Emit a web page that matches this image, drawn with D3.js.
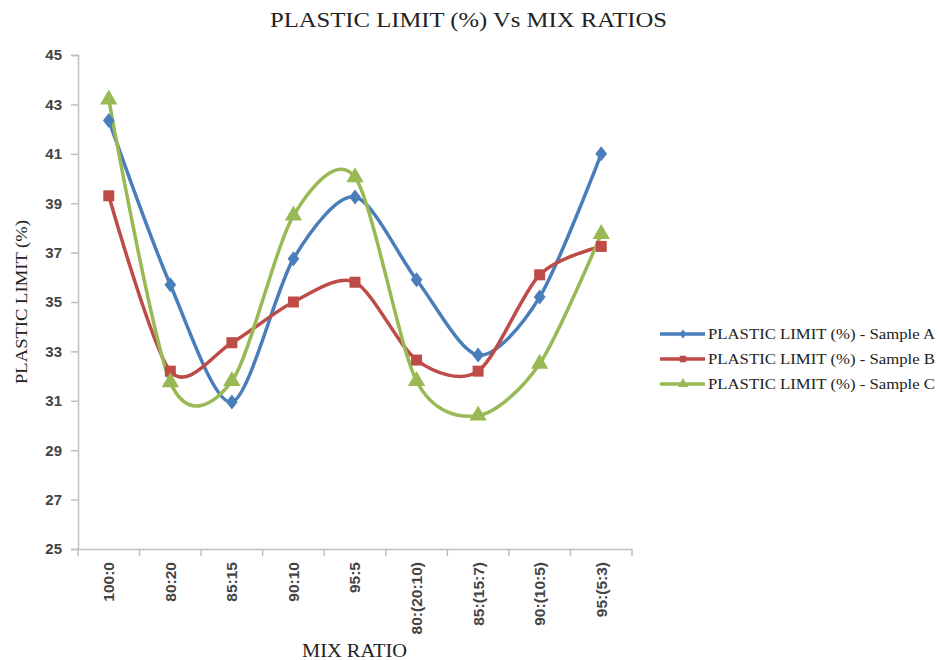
<!DOCTYPE html>
<html><head><meta charset="utf-8">
<script src="https://cdn.jsdelivr.net/npm/d3@7"></script>
<style>body{margin:0;background:#fff;} svg{display:block;}</style>
</head><body>
<svg id="chart" width="938" height="660"></svg>
<script>
const categories = ["100:0","80:20","85:15","90:10","95:5","80:(20:10)","85:(15:7)","90:(10:5)","95:(5:3)"];
const sampleA = [42.35, 35.7, 30.95, 36.75, 39.25, 35.9, 32.85, 35.2, 41.0];
const sampleB = [39.3, 32.2, 33.35, 35.0, 35.8, 32.65, 32.2, 36.1, 37.25];
const sampleC = [43.2, 31.75, 31.8, 38.5, 40.05, 31.8, 30.4, 32.5, 37.75];
const seriesNames = ["PLASTIC LIMIT (%) - Sample A","PLASTIC LIMIT (%) - Sample B","PLASTIC LIMIT (%) - Sample C"];
const yTicks = [25,27,29,31,33,35,37,39,41,43,45];

const colors = ["#4a7ebb","#be4b48","#98b954"];
const series = [sampleA, sampleB, sampleC];

const svg = d3.select("#chart");
const m = {left:78, right:632, top:55, bottom:549};

const x = d3.scaleBand().domain(categories).range([m.left, m.right]).padding(0);
const y = d3.scaleLinear().domain([25,45]).range([m.bottom, m.top]);

const serif = "'Liberation Serif', 'Times New Roman', serif";

// title
svg.append("text").attr("x",270).attr("y",27)
  .attr("font-family",serif).attr("font-size",22).attr("fill","#222")
  .attr("textLength",397).attr("lengthAdjust","spacingAndGlyphs")
  .text("PLASTIC LIMIT (%) Vs MIX RATIOS");

// y axis
const yAxis = svg.append("g").attr("transform",`translate(${m.left},0)`)
  .call(d3.axisLeft(y).tickValues(yTicks).tickSize(7).tickPadding(9));
yAxis.select(".domain").attr("stroke","#bfbfbf").attr("stroke-width",1.5);
yAxis.selectAll(".tick line").attr("stroke","#bfbfbf").attr("stroke-width",1.5);
yAxis.selectAll(".tick text").attr("font-family","'Liberation Sans', Arial, sans-serif")
  .attr("font-size",15).attr("font-weight","bold").attr("fill","#444");

// x axis
const xAxis = svg.append("g").attr("transform",`translate(0,${m.bottom})`)
  .call(d3.axisBottom(x).tickSize(0).tickPadding(0));
xAxis.select(".domain").attr("stroke","#bfbfbf").attr("stroke-width",1.5);
xAxis.selectAll(".tick text")
  .attr("font-family","'Liberation Sans', Arial, sans-serif").attr("font-size",15.5)
  .attr("font-weight","bold").attr("fill","#444")
  .attr("text-anchor","end").attr("dy","0.35em")
  .attr("transform","translate(0,13) rotate(-90)").attr("x",0).attr("y",0);
// tick marks at band boundaries
const bounds = categories.map(c => x(c)).concat([x(categories[categories.length-1]) + x.bandwidth()]);
xAxis.selectAll(".bt").data(bounds).join("line").attr("class","bt")
  .attr("x1",d=>d).attr("x2",d=>d).attr("y1",0).attr("y2",7)
  .attr("stroke","#bfbfbf").attr("stroke-width",1.5);

// axis titles
svg.append("text").attr("transform","translate(27,384) rotate(-90)")
  .attr("font-family",serif).attr("font-size",17).attr("fill","#222")
  .attr("textLength",164).attr("lengthAdjust","spacingAndGlyphs")
  .text("PLASTIC LIMIT (%)");
svg.append("text").attr("x",302).attr("y",657)
  .attr("font-family",serif).attr("font-size",18).attr("fill","#222")
  .attr("textLength",105).attr("lengthAdjust","spacingAndGlyphs")
  .text("MIX RATIO");

// lines
const line = d3.line().x((d,i)=>x(categories[i]) + x.bandwidth()/2).y(d=>y(d))
  .curve(d3.curveCardinal.tension(0.15));
const symbols = [d3.symbolDiamond, d3.symbolSquare, d3.symbolTriangle];
const symSizes = [90, 121, 130];

series.forEach((s,k)=>{
  svg.append("path").datum(s).attr("d",line).attr("fill","none")
    .attr("stroke",colors[k]).attr("stroke-width",3.5);
});
series.forEach((s,k)=>{
  svg.append("g").selectAll("path").data(s).join("path")
    .attr("transform",(d,i)=>`translate(${x(categories[i]) + x.bandwidth()/2},${y(d)})` + (k===0?" scale(1.15,0.85)":""))
    .attr("d", d3.symbol().type(symbols[k]).size(symSizes[k]))
    .attr("fill",colors[k]);
});

// legend
const lg = svg.append("g");
const ly = [334, 359, 384];
seriesNames.forEach((n,k)=>{
  lg.append("line").attr("x1",660).attr("x2",705).attr("y1",ly[k]).attr("y2",ly[k])
    .attr("stroke",colors[k]).attr("stroke-width",3.5);
  lg.append("path").attr("transform",`translate(683,${ly[k]})` + (k===0?" scale(1.15,0.85)":""))
    .attr("d", d3.symbol().type(symbols[k]).size(symSizes[k]*0.35)).attr("fill",colors[k]);
  lg.append("text").attr("x",708).attr("y",ly[k]).attr("dy","0.35em")
    .attr("font-family",serif).attr("font-size",15).attr("fill","#222")
    .attr("textLength",227).attr("lengthAdjust","spacingAndGlyphs")
    .text(n);
});
</script>
</body></html>
